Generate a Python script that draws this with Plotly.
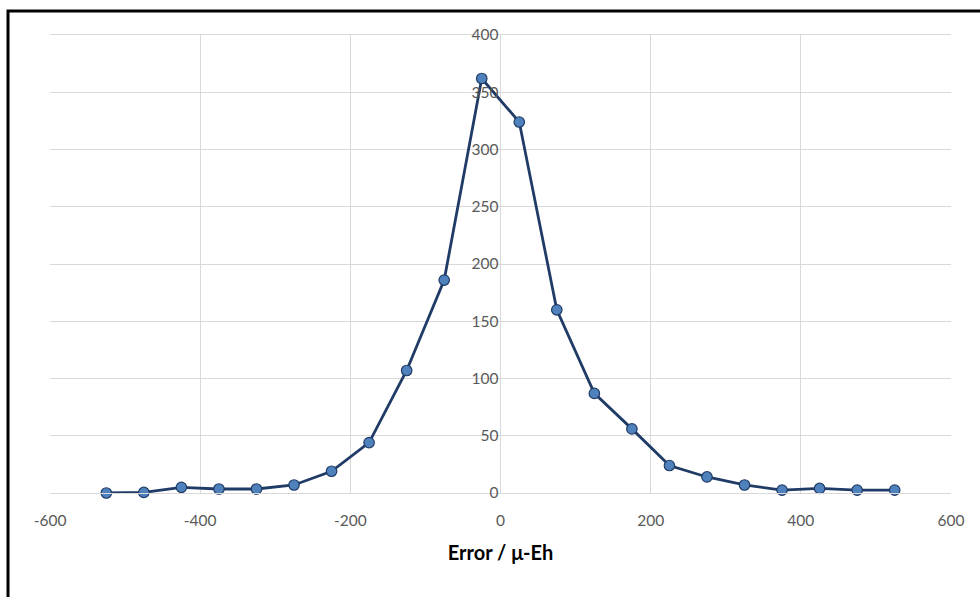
import plotly.graph_objects as go

error_bins = [-525, -475, -425, -375, -325, -275, -225, -175, -125, -75, -25,
              25, 75, 125, 175, 225, 275, 325, 375, 425, 475, 525]
counts = [0, 0.5, 5, 3.5, 3.5, 7, 19, 44, 107, 186, 362,
          324, 160, 87, 56, 24, 14, 7, 2.5, 4, 2.5, 2.5]
x_ticks = [-600, -400, -200, 0, 200, 400, 600]
y_ticks = [0, 50, 100, 150, 200, 250, 300, 350, 400]

fig = go.Figure()
fig.add_trace(go.Scatter(
    x=error_bins, y=counts, mode="lines+markers",
    line=dict(color="#1F3B66", width=2.8),
    marker=dict(size=10.5, color="#4F81BD", line=dict(color="#1F3B66", width=1.2)),
    showlegend=False, cliponaxis=False,
))

grid = "#D9D9D9"
fig.update_layout(
    width=980, height=597,
    margin=dict(l=50, r=29, t=35, b=104),
    paper_bgcolor="white", plot_bgcolor="white",
    font=dict(family="Lato, Open Sans, sans-serif", color="#595959", size=15.5),
    xaxis=dict(
        range=[-600, 600], tickvals=x_ticks, ticktext=[str(v) for v in x_ticks],
        showgrid=True, gridcolor=grid, gridwidth=1.3, zeroline=False,
        showline=True, linecolor=grid, linewidth=1.3, mirror=True,
        ticks="", ticklabelstandoff=13,
        title=dict(text="<b>Error / μ-Eh</b>", font=dict(size=20, color="#000000"), standoff=18),
    ),
    yaxis=dict(
        range=[0, 400], tickvals=y_ticks, ticktext=[str(v) for v in y_ticks],
        showgrid=True, gridcolor=grid, gridwidth=1.3, zeroline=False,
        showline=False, ticks="", anchor="free", position=0.5,
        ticklabelstandoff=2,
    ),
    shapes=[dict(type="path", xref="paper", yref="paper",
                 path="M 1.2,1.0524 L -0.0466,1.0524 L -0.0466,-0.4",
                 line=dict(color="black", width=3))],
)

fig.write_html("out.html")
